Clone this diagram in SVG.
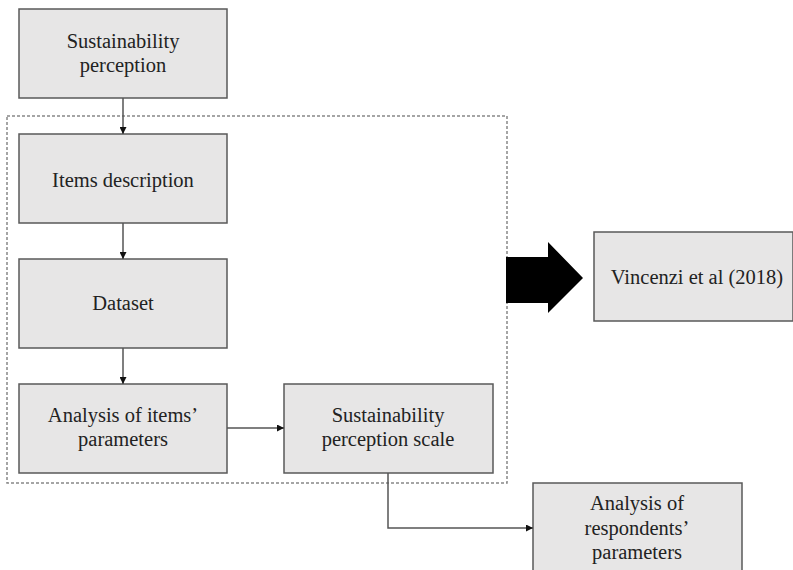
<svg xmlns="http://www.w3.org/2000/svg" width="793" height="570" viewBox="0 0 793 570">
<style>
.box{fill:#e7e6e6;stroke:#595959;stroke-width:1.5}
.t{font-family:"Liberation Serif","Times New Roman","DejaVu Serif",serif;font-size:20.5px;fill:#222;text-anchor:middle}
.c{fill:none;stroke:#555;stroke-width:1.5}
</style>
<defs>
<marker id="ah" viewBox="0 0 10 10" refX="10" refY="5" markerWidth="7" markerHeight="7" markerUnits="userSpaceOnUse" orient="auto"><path d="M0,0 L10,5 L0,10 z" fill="#111"/></marker>
</defs>
<rect x="7" y="116" width="500" height="367" fill="none" stroke="#888" stroke-width="1.5" stroke-dasharray="3,2"/>
<g id="n1"><rect class="box" x="19" y="9" width="208" height="89"/><text class="t" x="123" y="48">Sustainability</text><text class="t" x="123" y="72">perception</text></g>
<g id="n2"><rect class="box" x="19" y="134" width="208" height="89"/><text class="t" x="123" y="187">Items description</text></g>
<g id="n3"><rect class="box" x="19" y="259" width="208" height="89"/><text class="t" x="123" y="310">Dataset</text></g>
<g id="n4"><rect class="box" x="19" y="384" width="208" height="89"/><text class="t" x="123" y="422">Analysis of items’</text><text class="t" x="123" y="446">parameters</text></g>
<g id="n5"><rect class="box" x="284" y="384" width="209" height="89"/><text class="t" x="388" y="422">Sustainability</text><text class="t" x="388" y="446">perception scale</text></g>
<g id="n6"><rect class="box" x="594" y="232" width="199" height="89"/><text class="t" x="697" y="284">Vincenzi et al (2018)</text></g>
<g id="n7"><rect class="box" x="533" y="483" width="209" height="92"/><text class="t" x="637" y="510">Analysis of</text><text class="t" x="637" y="535">respondents’</text><text class="t" x="637" y="559">parameters</text></g>
<g id="connectors">
<line class="c" x1="123" y1="98" x2="123" y2="134" marker-end="url(#ah)"/>
<line class="c" x1="123" y1="223" x2="123" y2="259" marker-end="url(#ah)"/>
<line class="c" x1="123" y1="348" x2="123" y2="384" marker-end="url(#ah)"/>
<line class="c" x1="227" y1="428" x2="284" y2="428" marker-end="url(#ah)"/>
<polyline class="c" points="388,473 388,528 533,528" marker-end="url(#ah)"/>
<polygon points="506,257 548,257 548,242 583,278 548,313 548,303 506,303" fill="#000"/>
</g>
</svg>
